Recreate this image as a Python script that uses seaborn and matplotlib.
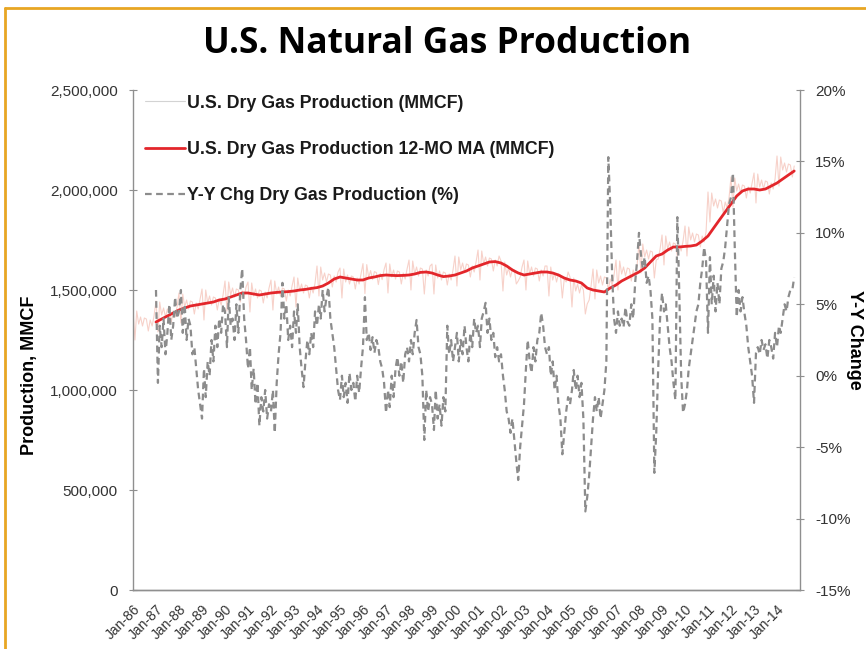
import matplotlib
matplotlib.use('Agg')

import matplotlib.pyplot as plt
import matplotlib.ticker as mticker
from matplotlib.lines import Line2D
import seaborn as sns
import pandas as pd

# --- Data ---
# Monthly dry gas production, thousand MMCF, Jan-86 .. Oct-14
raw_prod = [
    1400, 1250, 1395, 1330, 1365, 1320, 1360, 1355, 1295, 1350, 1320, 1370,  # 1986
    1445, 1290, 1440, 1375, 1410, 1365, 1405, 1400, 1340, 1395, 1365, 1415,  # 1987
    1485, 1335, 1480, 1415, 1450, 1405, 1445, 1440, 1380, 1435, 1405, 1455,  # 1988
    1505, 1350, 1500, 1435, 1470, 1425, 1465, 1460, 1400, 1455, 1425, 1475,  # 1989
    1545, 1395, 1540, 1475, 1510, 1465, 1505, 1500, 1440, 1495, 1465, 1515,  # 1990
    1540, 1390, 1535, 1470, 1505, 1460, 1500, 1495, 1435, 1490, 1460, 1510,  # 1991
    1550, 1400, 1545, 1480, 1515, 1470, 1510, 1505, 1445, 1500, 1470, 1520,  # 1992
    1565, 1415, 1560, 1495, 1530, 1485, 1525, 1520, 1460, 1515, 1485, 1535,  # 1993
    1620, 1470, 1615, 1550, 1585, 1540, 1580, 1575, 1515, 1570, 1540, 1590,  # 1994
    1610, 1460, 1605, 1540, 1575, 1530, 1570, 1565, 1505, 1560, 1530, 1580,  # 1995
    1632, 1482, 1627, 1562, 1597, 1552, 1592, 1587, 1527, 1582, 1552, 1602,  # 1996
    1635, 1485, 1630, 1565, 1600, 1555, 1595, 1590, 1530, 1585, 1555, 1605,  # 1997
    1650, 1500, 1645, 1580, 1615, 1570, 1610, 1605, 1480, 1600, 1570, 1620,  # 1998
    1630, 1480, 1625, 1560, 1595, 1550, 1590, 1585, 1525, 1580, 1550, 1600,  # 1999
    1670, 1520, 1665, 1600, 1635, 1590, 1630, 1625, 1565, 1620, 1590, 1640,  # 2000
    1700, 1550, 1695, 1630, 1665, 1620, 1660, 1655, 1595, 1650, 1620, 1670,  # 2001
    1645, 1495, 1640, 1575, 1610, 1565, 1605, 1600, 1530, 1545, 1565, 1615,  # 2002
    1650, 1500, 1645, 1580, 1615, 1570, 1610, 1605, 1545, 1600, 1570, 1620,  # 2003
    1620, 1470, 1615, 1550, 1585, 1540, 1580, 1575, 1460, 1555, 1540, 1590,  # 2004
    1565, 1415, 1560, 1495, 1530, 1485, 1525, 1500, 1380, 1430, 1450, 1520,  # 2005
    1605, 1455, 1600, 1535, 1570, 1525, 1565, 1560, 1500, 1555, 1525, 1575,  # 2006
    1650, 1500, 1645, 1580, 1615, 1570, 1610, 1605, 1545, 1600, 1570, 1620,  # 2007
    1735, 1585, 1730, 1665, 1700, 1655, 1695, 1690, 1560, 1650, 1655, 1705,  # 2008
    1775, 1625, 1770, 1705, 1740, 1695, 1735, 1730, 1670, 1725, 1695, 1745,  # 2009
    1820, 1670, 1815, 1750, 1785, 1740, 1780, 1775, 1715, 1770, 1740, 1790,  # 2010
    1990, 1840, 1985, 1920, 1955, 1910, 1950, 1945, 1885, 1940, 1910, 1960,  # 2011
    2065, 1915, 2060, 1995, 2030, 1985, 2025, 2020, 1960, 2015, 1985, 2035,  # 2012
    2085, 1935, 2080, 2015, 2050, 2005, 2045, 2040, 1980, 2035, 2005, 2055,  # 2013
    2170, 2020, 2165, 2100, 2135, 2090, 2130, 2125, 2065, 2120,              # 2014
]

# 12-month moving average, million MMCF, quarterly (Jan/Apr/Jul/Oct) from Jan-87
ma_prod = [
    1.340, 1.355, 1.370, 1.385,  1.400, 1.410, 1.420, 1.425,
    1.430, 1.435, 1.440, 1.450,  1.455, 1.465, 1.475, 1.485,
    1.485, 1.480, 1.475, 1.480,  1.485, 1.488, 1.490, 1.492,
    1.495, 1.500, 1.503, 1.508,  1.512, 1.520, 1.535, 1.555,
    1.565, 1.560, 1.555, 1.550,  1.550, 1.560, 1.565, 1.572,
    1.575, 1.573, 1.572, 1.573,  1.575, 1.580, 1.588, 1.590,
    1.585, 1.575, 1.567, 1.570,  1.575, 1.585, 1.595, 1.610,
    1.620, 1.630, 1.640, 1.642,  1.635, 1.620, 1.600, 1.585,
    1.575, 1.580, 1.585, 1.590,  1.590, 1.585, 1.575, 1.560,
    1.550, 1.545, 1.535, 1.510,  1.500, 1.495, 1.490, 1.510,
    1.525, 1.545, 1.560, 1.575,  1.590, 1.610, 1.640, 1.670,
    1.680, 1.700, 1.715, 1.715,  1.718, 1.720, 1.725, 1.745,
    1.770, 1.810, 1.850, 1.890,  1.930, 1.970, 1.995, 2.005,
    2.005, 2.000, 2.005, 2.020,  2.035, 2.055, 2.075, 2.095,
]

# Year-over-year change, %, monthly Jan-87 .. Oct-14
yoy_chg = [
    6.0, -0.5, 3.5, 2.0, 4.0, 1.5, 3.0, 5.0, 2.5, 3.5, 5.5, 4.0,        # 1987
    4.5, 6.0, 3.0, 5.0, 2.5, 4.0, 3.5, 1.5, 2.0, 0.5, -1.0, -2.0,       # 1988
    -3.0, 0.5, -1.5, 1.0, 0.0, 2.5, 1.0, 3.5, 2.0, 4.0, 3.0, 5.0,       # 1989
    4.5, 2.0, 5.5, 3.5, 4.0, 2.5, 5.0, 3.0, 6.0, 7.5, 4.0, 2.5,         # 1990
    0.5, 2.0, -1.0, 0.5, -2.0, -0.5, -3.5, -1.5, -2.5, -1.0, -3.0, -2.0,  # 1991
    -2.5, -1.0, -4.0, -0.5, 1.5, 3.0, 6.5, 4.0, 5.0, 2.5, 3.5, 2.0,     # 1992
    4.5, 3.0, 5.0, 2.0, 0.5, -0.8, 1.0, 2.5, 1.5, 3.0, 2.0, 4.5,        # 1993
    3.5, 5.0, 4.0, 6.0, 4.5, 5.5, 6.2, 4.0, 3.0, 2.0, 0.5, -1.0,        # 1994
    -1.7, 0.0, -1.5, -0.5, -1.9, 0.2, -1.0, -0.5, -1.8, 0.0, -1.2, 0.5,  # 1995
    2.0, 5.5, 2.5, 3.0, 1.8, 2.7, 1.6, 2.5, 2.0, 1.0, 0.5, -0.5,        # 1996
    -2.6, -1.0, -2.2, 0.0, -1.5, 0.5, 1.3, 0.0, 1.0, -0.5, 1.5, 2.0,    # 1997
    1.0, 2.5, 1.5, 3.0, 3.9, 2.0, 1.5, 0.0, -4.5, -1.0, -2.5, -1.5,     # 1998
    -2.0, -3.8, -1.0, -3.0, -2.0, -3.5, -1.5, -2.5, 3.5, 1.5, 2.5, 1.0,  # 1999
    2.0, 3.0, 1.0, 2.5, 1.5, 3.5, 2.0, 1.0, 3.0, 2.0, 4.0, 3.0,         # 2000
    3.5, 2.0, 4.0, 4.5, 5.1, 3.0, 4.0, 2.5, 3.0, 1.3, 2.0, 1.0,         # 2001
    1.5, 0.0, -1.0, -2.5, -3.0, -4.0, -3.0, -4.5, -6.0, -7.3, -5.0, -3.5,  # 2002
    -2.0, 0.5, 2.5, 1.0, 0.2, 2.0, 1.0, 2.5, 3.0, 4.4, 3.5, 2.0,        # 2003
    1.5, 2.0, 0.0, 1.0, -1.0, 0.0, -2.0, -3.0, -5.5, -4.0, -2.5, -1.5,  # 2004
    -2.0, -1.0, 0.4, -1.0, 0.0, -1.5, -0.5, -3.0, -9.5, -8.5, -7.0, -5.0,  # 2005
    -3.0, -1.5, -2.5, -1.5, -3.0, -2.0, -1.0, 1.0, 15.3, 12.0, 7.0, 4.0,  # 2006
    3.0, 4.5, 3.5, 4.0, 3.4, 4.8, 3.8, 3.5, 5.0, 4.0, 6.5, 8.0,         # 2007
    10.0, 8.5, 7.5, 8.3, 6.5, 7.0, 6.0, 4.0, -6.8, -4.0, 0.5, 4.0,      # 2008
    5.8, 4.5, 5.0, 3.5, 2.0, 1.0, -0.5, -1.7, 11.1, 6.0, 0.0, -2.6,     # 2009
    -2.0, -1.0, 0.5, 1.5, 2.5, 3.5, 4.5, 5.0, 6.5, 7.5, 9.0, 8.0,       # 2010
    3.0, 8.3, 5.0, 7.0, 4.5, 6.5, 5.0, 7.5, 8.0, 9.0, 10.5, 12.0,       # 2011
    12.5, 14.2, 9.0, 4.1, 6.0, 4.5, 5.5, 4.4, 3.5, 2.0, 1.0, 0.0,       # 2012
    -1.9, 1.6, 2.0, 1.5, 2.5, 1.8, 2.2, 1.2, 2.5, 2.0, 1.2, 3.0,        # 2013
    2.0, 3.5, 3.0, 4.0, 5.0, 4.5, 5.5, 6.0, 6.0, 6.9,                   # 2014
]

raw_label = "U.S. Dry Gas Production (MMCF)"
ma_label = "U.S. Dry Gas Production 12-MO MA (MMCF)"
yoy_label = "Y-Y Chg Dry Gas Production (%)"

tick_years = list(range(1986, 2015))

df_raw = pd.DataFrame({
    "Date": pd.date_range("1986-01-01", periods=len(raw_prod), freq="MS"),
    "MMCF": [v * 1000 for v in raw_prod],
})
df_ma = pd.DataFrame({
    "Date": pd.date_range("1987-01-01", periods=len(ma_prod), freq="QS"),
    "MMCF": [v * 1e6 for v in ma_prod],
})
df_yoy = pd.DataFrame({
    "Date": pd.date_range("1987-01-01", periods=len(yoy_chg), freq="MS"),
    "Pct": yoy_chg,
})

# --- Plot ---
sns.set_theme(style="white")
plt.rcParams['font.family'] = ['Liberation Sans', 'DejaVu Sans']

fig = plt.figure(figsize=(8.66, 6.49), dpi=100)
ax = fig.add_axes([133 / 866, 1 - 590 / 649, 667 / 866, 500 / 649])
ax2 = ax.twinx()

sns.lineplot(data=df_raw, x="Date", y="MMCF", ax=ax, color="#f5c6bc",
             lw=0.8, alpha=0.8, label=raw_label)
sns.lineplot(data=df_ma, x="Date", y="MMCF", ax=ax, color="#e3262b",
             lw=2.0, label=ma_label)
sns.lineplot(data=df_yoy, x="Date", y="Pct", ax=ax2, color="#8c8c8c",
             lw=1.6, ls=(0, (3, 2)), label=yoy_label)

ax.set_ylim(0, 2_500_000)
ax.set_yticks(range(0, 2_500_001, 500_000))
ax.yaxis.set_major_formatter(mticker.FuncFormatter(lambda v, p: f"{v:,.0f}"))
ax2.set_ylim(-15, 20)
ax2.set_yticks(range(-15, 21, 5))
ax2.yaxis.set_major_formatter(mticker.FuncFormatter(lambda v, p: f"{v:.0f}%"))

ax.set_xlim(pd.Timestamp("1986-01-01"), pd.Timestamp("2015-01-01"))
ticks = [pd.Timestamp(f"{y}-01-01") for y in tick_years]
ax.set_xticks(ticks)
ax.set_xticklabels([f"Jan-{y % 100:02d}" for y in tick_years], rotation=45,
                   ha="right", rotation_mode="anchor", fontsize=10, color="#333333")
ax.set_xlabel("")
ax.set_ylabel("")
ax2.set_ylabel("")

for a in (ax, ax2):
    for s in a.spines.values():
        s.set_color("#8f8f8f")
        s.set_linewidth(1.0)
    a.spines["top"].set_visible(False)
    a.tick_params(direction="inout", length=6, width=0.8, color="#8f8f8f",
                  labelsize=11, labelcolor="#333333")
ax.spines["right"].set_visible(False)
ax2.spines["left"].set_visible(False)
ax.tick_params(axis="y", pad=8)
ax2.tick_params(axis="y", pad=8)
ax.tick_params(axis="x", pad=6, labelsize=10)

# legend combining both axes
h1, l1 = ax.get_legend_handles_labels()
h2, l2 = ax2.get_legend_handles_labels()
if ax.get_legend():
    ax.get_legend().remove()
if ax2.get_legend():
    ax2.get_legend().remove()
leg = ax2.legend(h1 + h2, l1 + l2, loc="upper left", bbox_to_anchor=(0.012, 0.998),
                 frameon=False, prop={"weight": "bold", "size": 12.8},
                 labelspacing=1.65, handlelength=2.3, handletextpad=0.1,
                 borderpad=0.2, borderaxespad=0)
leg.get_lines()[0].set_color("#c9c9c9")
for t in leg.get_texts():
    t.set_color("#1a1a1a")

fig.text(447 / 866, 1 - 44 / 649, "U.S. Natural Gas Production",
         ha="center", va="center", fontsize=25.5, fontweight="bold",
         color="black", family=["Open Sans", "DejaVu Sans"])
fig.text(30 / 866, 1 - 375 / 649, "Production, MMCF", rotation=90,
         ha="center", va="center", fontsize=13, fontweight="bold", color="black")
fig.text(854 / 866, 1 - 340 / 649, "Y-Y Change", rotation=270,
         ha="center", va="center", fontsize=13, fontweight="bold", color="black")

# orange frame along left and top
fig.add_artist(Line2D([5 / 866, 5 / 866], [0, 1 - 8 / 649],
                      transform=fig.transFigure, color="#e8a623", lw=2))
fig.add_artist(Line2D([5 / 866, 1], [1 - 8 / 649, 1 - 8 / 649],
                      transform=fig.transFigure, color="#e8a623", lw=2))

fig.savefig("out.png", dpi=100)
